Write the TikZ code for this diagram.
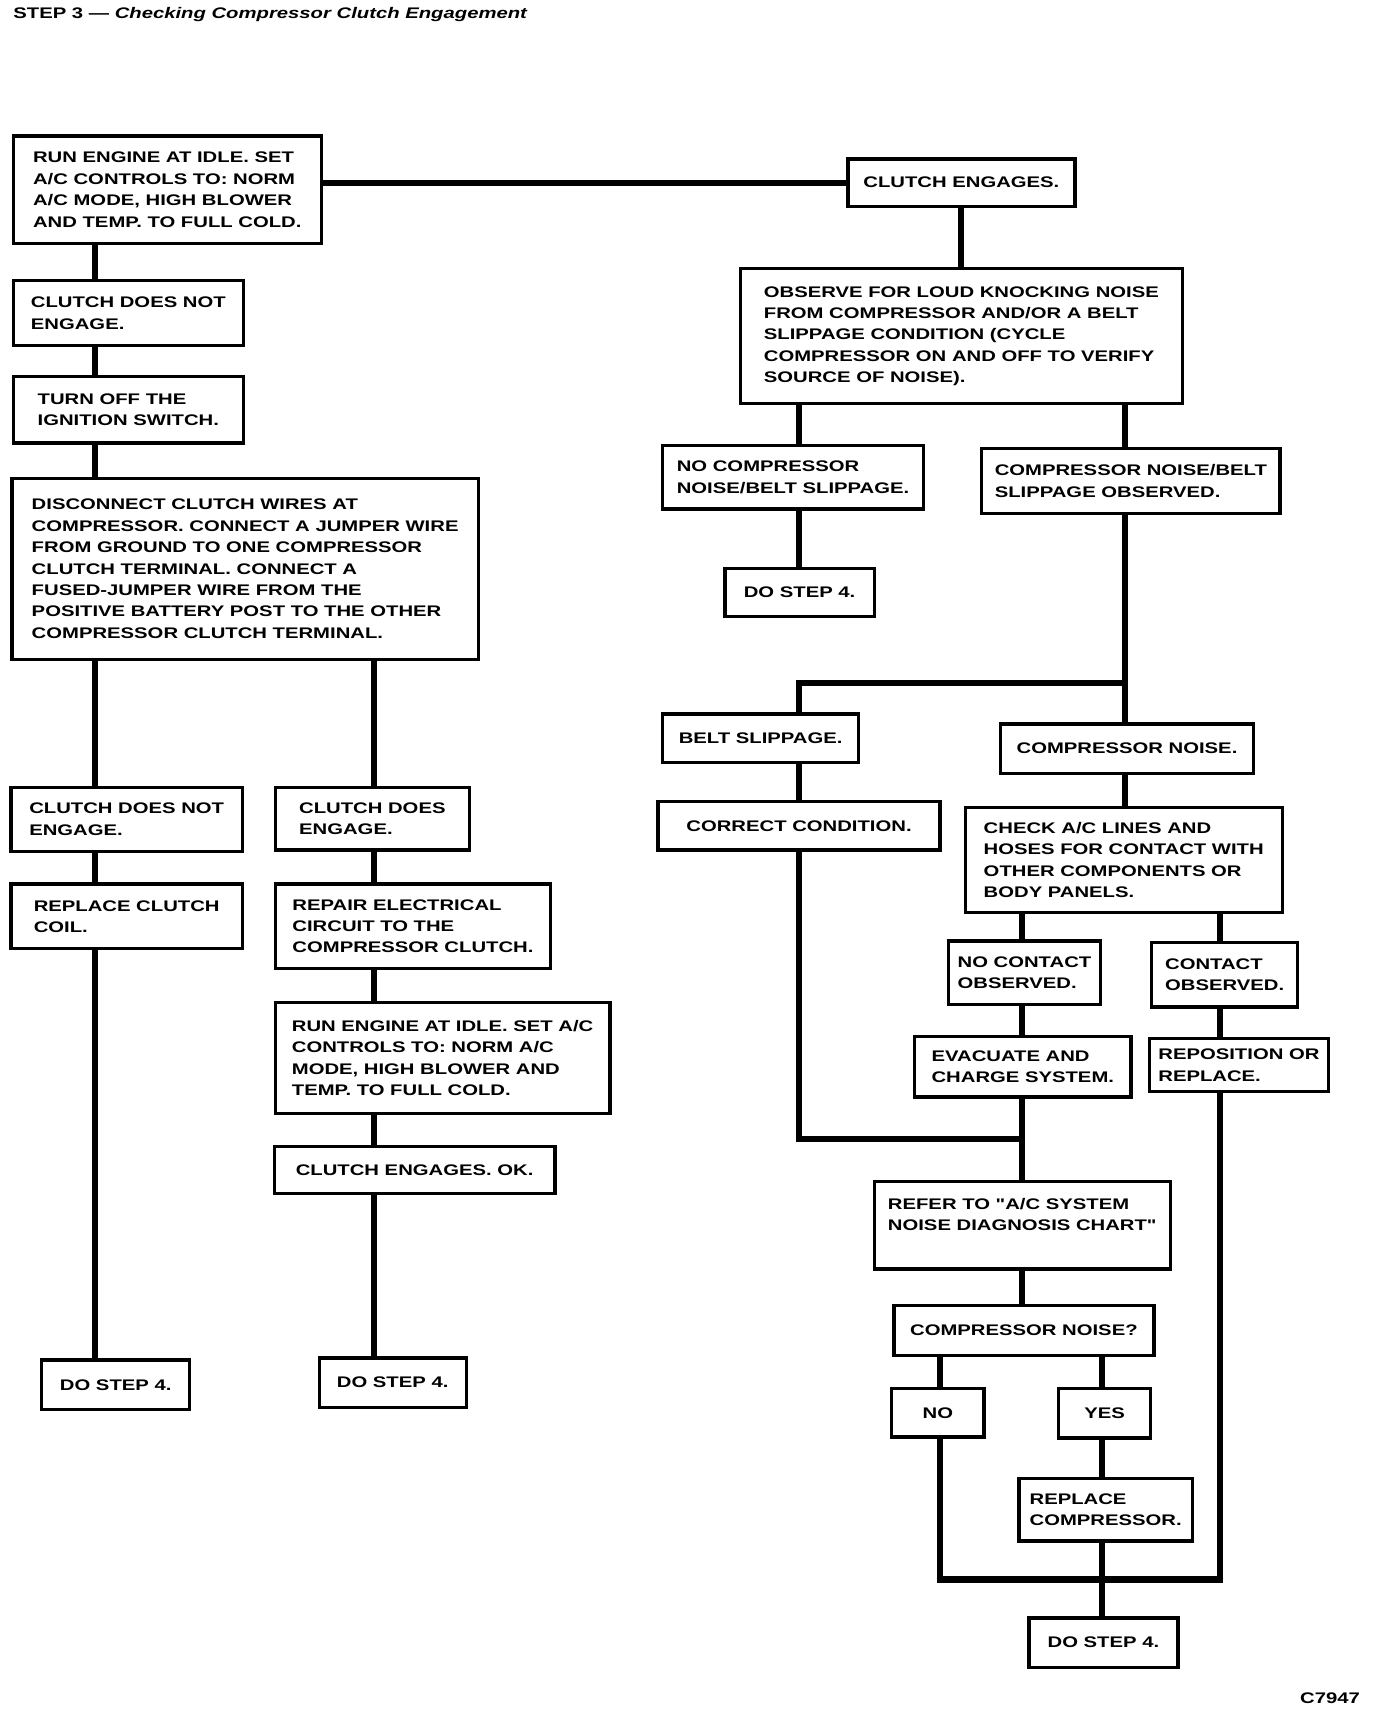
\documentclass[tikz,border=0pt]{standalone}
\usepackage{fontspec}
\newfontfamily\chartfont{Liberation Sans}[FakeStretch=1.32]
\usepackage{tikz}
\usetikzlibrary{positioning, calc}

\begin{document}
\begin{tikzpicture}
    [x=1pt, y=-1pt,
    stepbox/.style={rectangle, draw=black, line width=3pt, inner sep=3pt, align=left,
        font=\chartfont\bfseries\fontsize{14}{19.5}\selectfont},
    plaintext/.style={inner sep=0pt, font=\chartfont\bfseries\fontsize{14}{19.5}\selectfont},
    wire/.style={line width=5.5pt},]

    \path[fill=white, use as bounding box] (0,0) rectangle (1254.5,1566.3);

    %Titles
    \node[plaintext, anchor=west](title) at (12,13){STEP 3 — \itshape Checking Compressor Clutch Engagement};
    \node[plaintext, anchor=east](code) at (1240,1548){C7947};

    %Columns
    \coordinate (col-a) at (87,0);
    \coordinate (col-b) at (341,0);
    \coordinate (col-c) at (728,0);
    \coordinate (col-d) at (1026,0);
    \coordinate (col-e) at (932,0);
    \coordinate (col-f) at (1112,0);
    \coordinate (col-g) at (857,0);
    \coordinate (col-h) at (1005,0);

    %Nodes, left side
    \node[stepbox, minimum width=281pt, minimum height=98pt](run) at (152.5,173)
        {RUN ENGINE AT IDLE. SET\\A/C CONTROLS TO: NORM\\A/C MODE, HIGH BLOWER\\AND TEMP. TO FULL COLD.};
    \node[stepbox, minimum width=210pt, minimum height=59pt](notengage) at (117,285.5)
        {CLUTCH DOES NOT\\ENGAGE.};
    \node[stepbox, minimum width=210pt, minimum height=61pt](ignition) at (117,373.5)
        {TURN OFF THE\\IGNITION SWITCH.};
    \node[stepbox, minimum width=425pt, minimum height=165pt](jumper) at (223.5,518.5)
        {DISCONNECT CLUTCH WIRES AT\\COMPRESSOR. CONNECT A JUMPER WIRE\\FROM GROUND TO ONE COMPRESSOR\\CLUTCH TERMINAL. CONNECT A\\FUSED-JUMPER WIRE FROM THE\\POSITIVE BATTERY POST TO THE OTHER\\COMPRESSOR CLUTCH TERMINAL.};
    \node[stepbox, minimum width=211pt, minimum height=58pt](notengage2) at (115.5,747)
        {CLUTCH DOES NOT\\ENGAGE.};
    \node[stepbox, minimum width=211pt, minimum height=59pt](coil) at (115.5,835.5)
        {REPLACE CLUTCH\\COIL.};
    \node[stepbox, minimum width=135pt, minimum height=45pt](step4a) at (105.5,1262.5)
        {DO STEP 4.};
    \node[stepbox, minimum width=177pt, minimum height=57pt](doesengage) at (339.5,746.5)
        {CLUTCH DOES\\ENGAGE.};
    \node[stepbox, minimum width=251pt, minimum height=77pt](repair) at (376.5,844.5)
        {REPAIR ELECTRICAL\\CIRCUIT TO THE\\COMPRESSOR CLUTCH.};
    \node[stepbox, minimum width=305pt, minimum height=101pt](rerun) at (403.5,964.5)
        {RUN ENGINE AT IDLE. SET A/C\\CONTROLS TO: NORM A/C\\MODE, HIGH BLOWER AND\\TEMP. TO FULL COLD.};
    \node[stepbox, minimum width=256pt, minimum height=43pt](engagesok) at (378,1066.5)
        {CLUTCH ENGAGES. OK.};
    \node[stepbox, minimum width=134pt, minimum height=45pt](step4b) at (358,1260.5)
        {DO STEP 4.};

    %Nodes, right side
    \node[stepbox, minimum width=207pt, minimum height=43pt](engages) at (876.5,166.5)
        {CLUTCH ENGAGES.};
    \node[stepbox, minimum width=403pt, minimum height=123pt](observe) at (876.5,306.5)
        {OBSERVE FOR LOUD KNOCKING NOISE\\FROM COMPRESSOR AND/OR A BELT\\SLIPPAGE CONDITION (CYCLE\\COMPRESSOR ON AND OFF TO VERIFY\\SOURCE OF NOISE).};
    \node[stepbox, minimum width=238pt, minimum height=58pt](nonoise) at (723,435)
        {NO COMPRESSOR\\NOISE/BELT SLIPPAGE.};
    \node[stepbox, minimum width=136pt, minimum height=44pt](step4c) at (729,540)
        {DO STEP 4.};
    \node[stepbox, minimum width=272pt, minimum height=59pt](noisebelt) at (1031,438.5)
        {COMPRESSOR NOISE/BELT\\SLIPPAGE OBSERVED.};
    \node[stepbox, minimum width=179pt, minimum height=44pt](belt) at (693.5,673)
        {BELT SLIPPAGE.};
    \node[stepbox, minimum width=257pt, minimum height=44pt](correct) at (728.5,753)
        {CORRECT CONDITION.};
    \node[stepbox, minimum width=231pt, minimum height=45pt](cnoise) at (1027.5,682.5)
        {COMPRESSOR NOISE.};
    \node[stepbox, minimum width=289pt, minimum height=96pt](check) at (1024.5,784)
        {CHECK A/C LINES AND\\HOSES FOR CONTACT WITH\\OTHER COMPONENTS OR\\BODY PANELS.};
    \node[stepbox, minimum width=138pt, minimum height=58pt](nocontact) at (934,887)
        {NO CONTACT\\OBSERVED.};
    \node[stepbox, minimum width=133pt, minimum height=59pt](contact) at (1116.5,888.5)
        {CONTACT\\OBSERVED.};
    \node[stepbox, minimum width=197pt, minimum height=55pt](evac) at (932.5,972.5)
        {EVACUATE AND\\CHARGE SYSTEM.};
    \node[stepbox, minimum width=163pt, minimum height=48pt](repos) at (1129.5,971)
        {REPOSITION OR\\REPLACE.};
    \node[stepbox, minimum width=270pt, minimum height=80pt](refer) at (932,1117)
        {REFER TO "A/C SYSTEM\\NOISE DIAGNOSIS CHART"\\\mbox{}};
    \node[stepbox, minimum width=237pt, minimum height=46pt](cquery) at (933.5,1213)
        {COMPRESSOR NOISE?};
    \node[stepbox, minimum width=84pt, minimum height=44pt](no) at (855,1288)
        {NO};
    \node[stepbox, minimum width=84pt, minimum height=45pt](yes) at (1007,1288.5)
        {YES};
    \node[stepbox, minimum width=158pt, minimum height=57pt](newcomp) at (1008,1376.5)
        {REPLACE\\COMPRESSOR.};
    \node[stepbox, minimum width=136pt, minimum height=45pt](step4d) at (1006,1497.5)
        {DO STEP 4.};

    \coordinate (fork) at (1026,623);
    \coordinate (merge) at (932,1038);
    \coordinate (bus) at (1005,1440);

    %Lines, left side
    \draw[wire] (run.east |- engages.west) -- (engages.west);
    \draw[wire] (run.south -| col-a) -- (notengage.north -| col-a);
    \draw[wire] (notengage.south -| col-a) -- (ignition.north -| col-a);
    \draw[wire] (ignition.south -| col-a) -- (jumper.north -| col-a);
    \draw[wire] (jumper.south -| col-a) -- (notengage2.north -| col-a);
    \draw[wire] (notengage2.south -| col-a) -- (coil.north -| col-a);
    \draw[wire] (coil.south -| col-a) -- (step4a.north -| col-a);
    \draw[wire] (jumper.south -| col-b) -- (doesengage.north -| col-b);
    \draw[wire] (doesengage.south -| col-b) -- (repair.north -| col-b);
    \draw[wire] (repair.south -| col-b) -- (rerun.north -| col-b);
    \draw[wire] (rerun.south -| col-b) -- (engagesok.north -| col-b);
    \draw[wire] (engagesok.south -| col-b) -- (step4b.north -| col-b);

    %Lines, right side
    \draw[wire] (engages.south) -- (observe.north);
    \draw[wire] (observe.south -| col-c) -- (nonoise.north -| col-c);
    \draw[wire] (nonoise.south -| col-c) -- (step4c.north -| col-c);
    \draw[wire] (observe.south -| col-d) -- (noisebelt.north -| col-d);
    \draw[wire] (noisebelt.south -| col-d) -- (cnoise.north -| col-d);
    \draw[wire] (fork) -| (belt.north -| col-c);
    \draw[wire] (belt.south -| col-c) -- (correct.north -| col-c);
    \draw[wire] (correct.south -| col-c) |- (merge);
    \draw[wire] (cnoise.south -| col-d) -- (check.north -| col-d);
    \draw[wire] (check.south -| col-e) -- (nocontact.north -| col-e);
    \draw[wire] (nocontact.south -| col-e) -- (evac.north -| col-e);
    \draw[wire] (evac.south -| col-e) -- (refer.north -| col-e);
    \draw[wire] (check.south -| col-f) -- (contact.north -| col-f);
    \draw[wire] (contact.south -| col-f) -- (repos.north -| col-f);
    \draw[wire] (refer.south -| col-e) -- (cquery.north -| col-e);
    \draw[wire] (cquery.south -| col-g) -- (no.north -| col-g);
    \draw[wire] (cquery.south -| col-h) -- (yes.north -| col-h);
    \draw[wire] (yes.south -| col-h) -- (newcomp.north -| col-h);
    \draw[wire] (newcomp.south -| col-h) -- (step4d.north -| col-h);
    \draw[wire] (no.south -| col-g) |- (bus) -| (repos.south -| col-f);
\end{tikzpicture}
\end{document}
